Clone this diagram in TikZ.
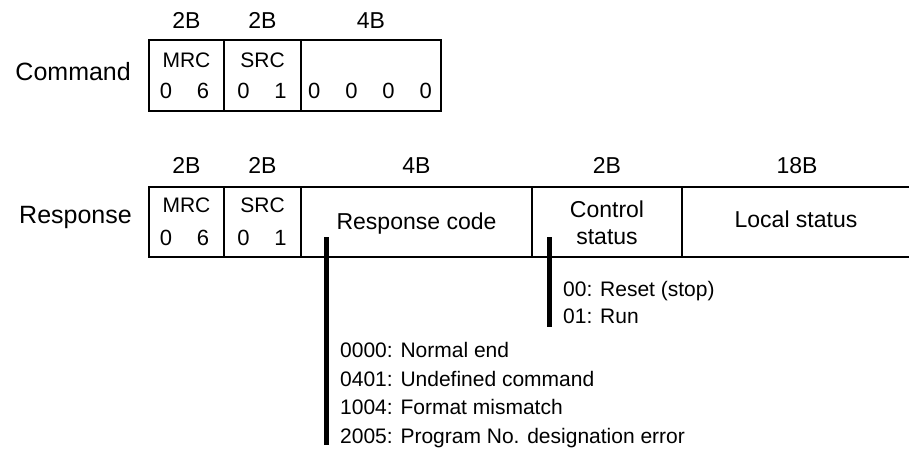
\documentclass[tikz,border=0pt]{standalone}
\usepackage{fontspec}
\setmainfont{Liberation Sans}
\begin{document}
\begin{tikzpicture}[x=1pt,y=-1pt,
  cell/.style={draw, line width=1.5pt, minimum height=70pt, inner sep=0pt, outer sep=0pt, anchor=north west},
  plain/.style={inner sep=0pt, outer sep=0pt, minimum height=70pt, anchor=north west},
  hdr/.style={inner sep=0pt, anchor=base, font=\fontsize{23}{27}\selectfont},
  lbl/.style={inner sep=0pt, anchor=base east, font=\fontsize{25}{30}\selectfont},
  small/.style={inner sep=0pt, anchor=base, font=\fontsize{21}{25}\selectfont},
  digits/.style={inner sep=0pt, anchor=base, font=\fontsize{22}{26}\selectfont},
  celltext/.style={inner sep=0pt, anchor=base, font=\fontsize{23}{27}\selectfont},
  item/.style={inner sep=0pt, anchor=base west, font=\fontsize{21}{25}\selectfont},
  bar/.style={line width=5pt}]
\useasboundingbox (0,0) rectangle (909,453);

% ---------- Command ----------
\node[cell, minimum width=75pt, minimum height=71pt] (cmrc) at (149,40) {};
\node[cell, minimum width=77pt, minimum height=71pt] (csrc) at (224,40) {};
\node[cell, minimum width=140pt, minimum height=71pt] (cdat) at (301,40) {};

\node[hdr] (ch1) at (186.5,28) {2B};
\node[hdr] (ch2) at (262.5,28) {2B};
\node[hdr] (ch3) at (371,28) {4B};

\node[lbl] (cmd) at (131,80) {Command};

\node[small] (cmrct) at (186.5,67) {MRC};
\node[small] (csrct) at (262.5,67) {SRC};
\node[digits] (cmrcd) at (184.5,98) {0\hskip 25pt 6};
\node[digits] (csrcd) at (262,98) {0\hskip 25pt 1};
\node[digits] (cdatd) at (370,98) {0\hskip 25pt 0\hskip 25pt 0\hskip 25pt 0};

% ---------- Response ----------
\node[cell, minimum width=75pt] (rmrc) at (149,187) {};
\node[cell, minimum width=77pt] (rsrc) at (224,187) {};
\node[cell, minimum width=231pt] (rcode) at (301,187) {};
\node[cell, minimum width=150pt] (rctl) at (532,187) {};
\node[plain, minimum width=227pt] (rloc) at (682,187) {};
\draw[line width=1.5pt] (rloc.north west) -- (rloc.north east);
\draw[line width=1.5pt] (rloc.south west) -- (rloc.south east);

\node[hdr] (rh1) at (186.5,173) {2B};
\node[hdr] (rh2) at (262.5,173) {2B};
\node[hdr] (rh3) at (416.5,173) {4B};
\node[hdr] (rh4) at (607,173) {2B};
\node[hdr] (rh5) at (797,173) {18B};

\node[lbl] (resp) at (132,223) {Response};

\node[small] (rmrct) at (186.5,212) {MRC};
\node[small] (rsrct) at (262.5,212) {SRC};
\node[digits] (rmrcd) at (184.5,245) {0\hskip 25pt 6};
\node[digits] (rsrcd) at (262,245) {0\hskip 25pt 1};

\node[celltext] (rcodet) at (416.5,229) {Response code};
\node[celltext] (rctlt1) at (607,217) {Control};
\node[celltext] (rctlt2) at (607,244) {status};
\node[celltext] (rloct) at (796,227) {Local status};

% ---------- Bars and lists ----------
\coordinate (rcbar) at (326,237);
\coordinate (rcend) at (326,445);
\coordinate (ctbar) at (549,237);
\coordinate (ctend) at (549,327);
\draw[bar] (rcbar) -- (rcend);
\draw[bar] (ctbar) -- (ctend);

\node[item] (c00) at (563,296) {00: Reset (stop)};
\node[item] (c01) at (563,323) {01: Run};

\node[item] (r0000) at (340,357) {0000: Normal end};
\node[item] (r0401) at (340,386) {0401: Undefined command};
\node[item] (r1004) at (340,414) {1004: Format mismatch};
\node[item] (r2005) at (340,443) {2005: Program No. designation error};
\end{tikzpicture}
\end{document}
